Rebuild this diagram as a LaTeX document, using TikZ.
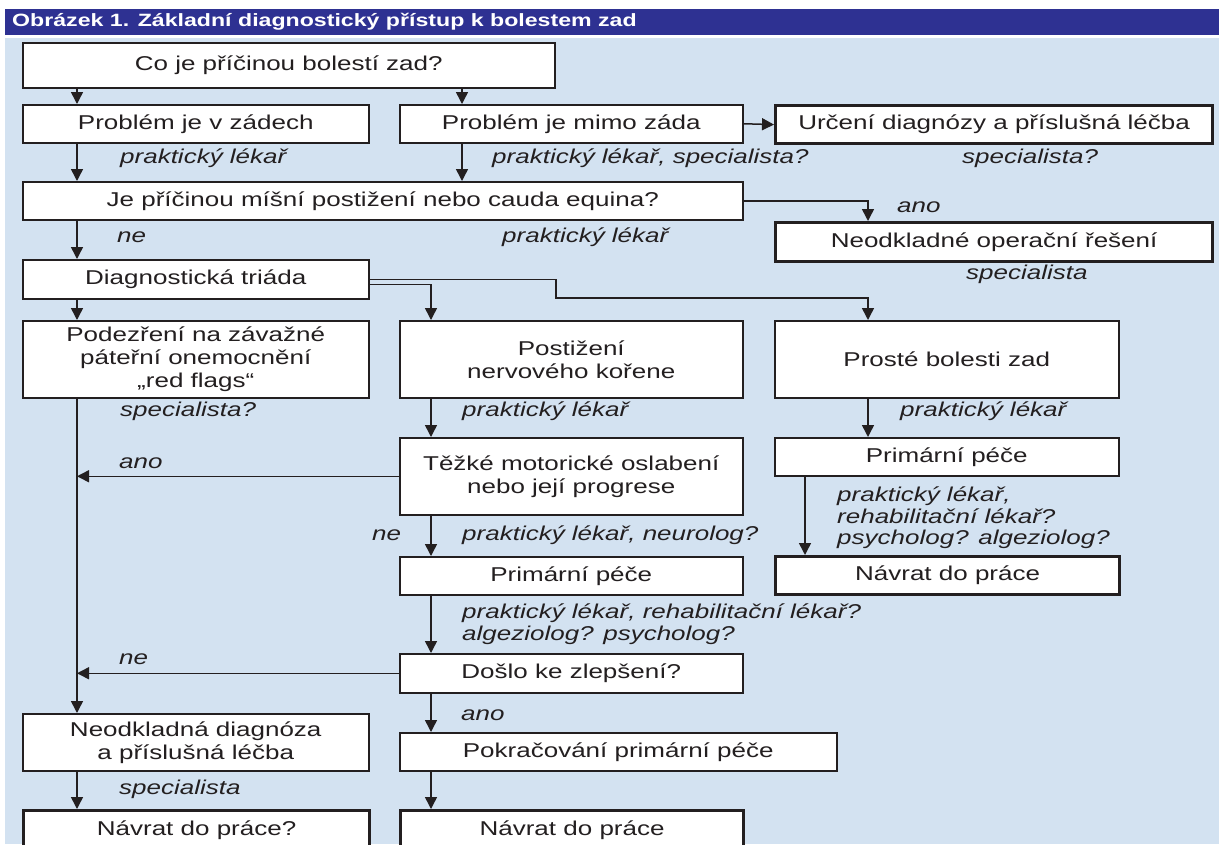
\documentclass[tikz,border=0pt]{standalone}
\usepackage{fontspec}
\usetikzlibrary{arrows.meta}
\newfontfamily\chartfont[FakeStretch=1.3]{Liberation Sans}
\definecolor{titleblue}{RGB}{46,49,146}
\definecolor{paleblue}{RGB}{211,226,241}
\definecolor{ink}{RGB}{35,31,32}

\begin{document}
\begin{tikzpicture}[x=1pt,y=-1pt,
  box/.style={draw=ink,line width=1.5pt,fill=white,inner sep=0pt,anchor=north west,align=center,text=ink,font=\chartfont\fontsize{20}{23}\selectfont},
  endbox/.style={box,line width=3.2pt},
  who/.style={anchor=west,inner sep=0pt,text=ink,align=left,font=\chartfont\itshape\fontsize{20}{21.5}\selectfont},
  arr/.style={draw=ink,line width=1.5pt,-{Triangle[length=12pt,width=12pt]}}]
  \useasboundingbox (0,0) rectangle (1219,844);
  \clip (0,0) rectangle (1219,844);
  \fill[white] (0,0) rectangle (1219,844);
  \fill[titleblue] (5,9) rectangle (1219,35);
  \fill[paleblue] (5,38) rectangle (1219,844);
  \node[anchor=west,inner sep=0pt,text=white,font=\chartfont\bfseries\fontsize{17.8}{20}\selectfont] (title) at (12,22) {Obrázek 1. Základní diagnostický přístup k bolestem zad};

  \node[box,minimum width=532pt,minimum height=45pt] (cause) at (22,42) {Co je příčinou bolestí zad?};
  \node[box,minimum width=346pt,minimum height=38pt] (back) at (22,104) {Problém je v zádech};
  \node[box,minimum width=343pt,minimum height=38pt] (outside) at (399,104) {Problém je mimo záda};
  \node[endbox,minimum width=437pt,minimum height=38pt] (diag) at (774,104) {Určení diagnózy a příslušná léčba};
  \node[box,minimum width=720pt,minimum height=38pt] (spine) at (22,181) {Je příčinou míšní postižení nebo cauda equina?};
  \node[endbox,minimum width=437pt,minimum height=39pt] (surgery) at (774,221) {Neodkladné operační řešení};
  \node[box,minimum width=346pt,minimum height=39pt] (triad) at (22,259) {Diagnostická triáda};
  \node[box,minimum width=346pt,minimum height=77pt] (flags) at (22,320) {Podezření na závažné\\páteřní onemocnění\\„red flags“};
  \node[box,minimum width=343pt,minimum height=77pt] (root) at (399,320) {Postižení\\nervového kořene};
  \node[box,minimum width=344pt,minimum height=77pt] (simple) at (774,320) {Prosté bolesti zad};
  \node[box,minimum width=343pt,minimum height=77pt] (motor) at (399,437) {Těžké motorické oslabení\\nebo její progrese};
  \node[box,minimum width=344pt,minimum height=38pt] (careC) at (774,437) {Primární péče};
  \node[endbox,minimum width=344pt,minimum height=38pt] (workC) at (774,555) {Návrat do práce};
  \node[box,minimum width=343pt,minimum height=38pt] (careA) at (399,556) {Primární péče};
  \node[box,minimum width=343pt,minimum height=39pt] (better) at (399,653) {Došlo ke zlepšení?};
  \node[box,minimum width=346pt,minimum height=57pt] (urgent) at (22,713) {Neodkladná diagnóza\\a příslušná léčba};
  \node[box,minimum width=437pt,minimum height=38pt] (cont) at (399,732) {Pokračování primární péče};
  \node[endbox,minimum width=346pt,minimum height=40pt] (workA) at (22,809) {Návrat do práce?};
  \node[endbox,minimum width=343pt,minimum height=40pt] (workB) at (399,809) {Návrat do práce};

  \node[who] (w1) at (120,158) {praktický lékař};
  \node[who] (w2) at (492,158) {praktický lékař, specialista?};
  \node[who] (w3) at (962,158) {specialista?};
  \node[who] (yes1) at (897,207) {ano};
  \node[who] (no1) at (117,237) {ne};
  \node[who] (w4) at (502,237) {praktický lékař};
  \node[who] (w5) at (966,274) {specialista};
  \node[who] (w6) at (120,411) {specialista?};
  \node[who] (w7) at (462,411) {praktický lékař};
  \node[who] (w8) at (900,411) {praktický lékař};
  \node[who] (yes2) at (119,463) {ano};
  \node[who] (w9) at (837,518) {praktický lékař,\\rehabilitační lékař?\\psycholog? algeziolog?};
  \node[who] (no2) at (372,535) {ne};
  \node[who] (w10) at (462,535) {praktický lékař, neurolog?};
  \node[who] (w11) at (462,624) {praktický lékař, rehabilitační lékař?\\algeziolog? psycholog?};
  \node[who] (no3) at (119,659) {ne};
  \node[who] (yes3) at (461,715) {ano};
  \node[who] (w12) at (119,789) {specialista};

  \coordinate (colA) at (77,0);
  \coordinate (colM) at (462,0);
  \coordinate (colB) at (431,0);
  \coordinate (colC) at (868,0);
  \coordinate (colD) at (805,0);
  \coordinate (jog) at (556,298);

  \draw[arr] (cause.south -| colA) -- (back.north -| colA);
  \draw[arr] (cause.south -| colM) -- (outside.north -| colM);
  \draw[arr] (outside.east) -- (diag.west);
  \draw[arr] (back.south -| colA) -- (spine.north -| colA);
  \draw[arr] (outside.south -| colM) -- (spine.north -| colM);
  \draw[arr] (spine.east) -| (surgery.north -| colC);
  \draw[arr] (spine.south -| colA) -- (triad.north -| colA);
  \draw[arr] (triad.east) -- (triad.east -| jog) -- (jog) -| (simple.north -| colC);
  \draw[arr] ([yshift=-5pt]triad.east) -| (root.north -| colB);
  \draw[arr] (triad.south -| colA) -- (flags.north -| colA);
  \draw[arr] (flags.south -| colA) -- (urgent.north -| colA);
  \draw[arr] (root.south -| colB) -- (motor.north -| colB);
  \draw[arr] (simple.south -| colC) -- (careC.north -| colC);
  \draw[arr] (careC.south -| colD) -- (workC.north -| colD);
  \draw[arr] (motor.west) -- (motor.west -| colA);
  \draw[arr] (motor.south -| colB) -- (careA.north -| colB);
  \draw[arr] (careA.south -| colB) -- (better.north -| colB);
  \draw[arr] (better.west) -- (better.west -| colA);
  \draw[arr] (better.south -| colB) -- (cont.north -| colB);
  \draw[arr] (cont.south -| colB) -- (workB.north -| colB);
  \draw[arr] (urgent.south -| colA) -- (workA.north -| colA);
\end{tikzpicture}
\end{document}
